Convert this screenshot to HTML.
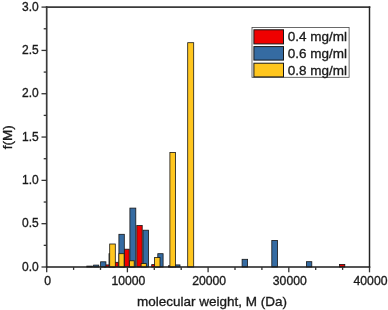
<!DOCTYPE html>
<html><head><meta charset="utf-8"><title>chart</title>
<style>
html,body{margin:0;padding:0;background:#fff;}
body{width:388px;height:310px;overflow:hidden;}
svg{display:block;will-change:transform;filter:blur(0.3px);font-family:"Liberation Sans",sans-serif;fill:#1a1a1a;}
text{stroke:#1a1a1a;stroke-width:0.33px;}
</style></head><body>
<svg width="388" height="310" viewBox="0 0 388 310">
<rect x="0" y="0" width="388" height="310" fill="#ffffff"/>
<rect x="104.40" y="264.90" width="5.40" height="2.10" fill="#ef0000" stroke="#161616" stroke-width="0.8"/>
<rect x="112.90" y="262.30" width="5.30" height="4.70" fill="#ef0000" stroke="#161616" stroke-width="0.8"/>
<rect x="123.80" y="249.20" width="5.40" height="17.80" fill="#ef0000" stroke="#161616" stroke-width="0.8"/>
<rect x="136.80" y="225.50" width="5.40" height="41.50" fill="#ef0000" stroke="#161616" stroke-width="0.8"/>
<rect x="151.70" y="264.60" width="5.20" height="2.40" fill="#ef0000" stroke="#161616" stroke-width="0.8"/>
<rect x="168.40" y="265.80" width="5.20" height="1.20" fill="#ef0000" stroke="#161616" stroke-width="0.8"/>
<rect x="339.40" y="264.40" width="5.40" height="2.60" fill="#ef0000" stroke="#161616" stroke-width="0.8"/>
<rect x="86.80" y="266.10" width="5.70" height="0.90" fill="#356ba2" stroke="#161616" stroke-width="0.8"/>
<rect x="93.60" y="265.10" width="5.20" height="1.90" fill="#356ba2" stroke="#161616" stroke-width="0.8"/>
<rect x="100.60" y="261.80" width="5.30" height="5.20" fill="#356ba2" stroke="#161616" stroke-width="0.8"/>
<rect x="109.00" y="253.70" width="5.50" height="13.30" fill="#356ba2" stroke="#161616" stroke-width="0.8"/>
<rect x="118.90" y="234.30" width="5.40" height="32.70" fill="#356ba2" stroke="#161616" stroke-width="0.8"/>
<rect x="129.90" y="208.10" width="5.90" height="58.90" fill="#356ba2" stroke="#161616" stroke-width="0.8"/>
<rect x="143.00" y="230.20" width="5.50" height="36.80" fill="#356ba2" stroke="#161616" stroke-width="0.8"/>
<rect x="157.80" y="253.70" width="5.30" height="13.30" fill="#356ba2" stroke="#161616" stroke-width="0.8"/>
<rect x="174.80" y="264.90" width="5.20" height="2.10" fill="#356ba2" stroke="#161616" stroke-width="0.8"/>
<rect x="242.10" y="259.30" width="5.50" height="7.70" fill="#356ba2" stroke="#161616" stroke-width="0.8"/>
<rect x="271.80" y="240.40" width="5.70" height="26.60" fill="#356ba2" stroke="#161616" stroke-width="0.8"/>
<rect x="306.40" y="261.70" width="5.40" height="5.30" fill="#356ba2" stroke="#161616" stroke-width="0.8"/>
<rect x="109.70" y="244.00" width="5.60" height="23.00" fill="#ffc61e" stroke="#161616" stroke-width="0.8"/>
<rect x="118.90" y="253.70" width="5.20" height="13.30" fill="#ffc61e" stroke="#161616" stroke-width="0.8"/>
<rect x="129.50" y="260.80" width="4.70" height="6.20" fill="#ffc61e" stroke="#161616" stroke-width="0.8"/>
<rect x="141.10" y="263.60" width="5.20" height="3.40" fill="#ffc61e" stroke="#161616" stroke-width="0.8"/>
<rect x="154.60" y="257.50" width="5.40" height="9.50" fill="#ffc61e" stroke="#161616" stroke-width="0.8"/>
<rect x="169.90" y="152.40" width="5.60" height="114.60" fill="#ffc61e" stroke="#161616" stroke-width="0.8"/>
<rect x="187.70" y="42.70" width="6.00" height="224.30" fill="#ffc61e" stroke="#161616" stroke-width="0.8"/>
<g fill="none" stroke-linecap="square"><line x1="46.7" y1="7.1" x2="46.7" y2="267.0" stroke="#3a3a3a" stroke-width="1.7"/><line x1="46.7" y1="7.1" x2="369.5" y2="7.1" stroke="#3a3a3a" stroke-width="1.7"/><line x1="369.5" y1="7.1" x2="369.5" y2="267.0" stroke="#222" stroke-width="1.45"/><line x1="46.7" y1="267.0" x2="369.5" y2="267.0" stroke="#1c1c1c" stroke-width="1.55"/></g>
<g stroke="#333333" stroke-width="1.3"><line x1="46.70" y1="267.0" x2="46.70" y2="272.3"/>
<line x1="73.60" y1="267.0" x2="73.60" y2="269.9"/>
<line x1="100.50" y1="267.0" x2="100.50" y2="269.9"/>
<line x1="127.40" y1="267.0" x2="127.40" y2="272.3"/>
<line x1="154.30" y1="267.0" x2="154.30" y2="269.9"/>
<line x1="181.20" y1="267.0" x2="181.20" y2="269.9"/>
<line x1="208.10" y1="267.0" x2="208.10" y2="272.3"/>
<line x1="235.00" y1="267.0" x2="235.00" y2="269.9"/>
<line x1="261.90" y1="267.0" x2="261.90" y2="269.9"/>
<line x1="288.80" y1="267.0" x2="288.80" y2="272.3"/>
<line x1="315.70" y1="267.0" x2="315.70" y2="269.9"/>
<line x1="342.60" y1="267.0" x2="342.60" y2="269.9"/>
<line x1="369.50" y1="267.0" x2="369.50" y2="272.3"/>
<line x1="46.7" y1="267.00" x2="41.5" y2="267.00"/>
<line x1="46.7" y1="245.34" x2="43.7" y2="245.34"/>
<line x1="46.7" y1="223.68" x2="41.5" y2="223.68"/>
<line x1="46.7" y1="202.03" x2="43.7" y2="202.03"/>
<line x1="46.7" y1="180.37" x2="41.5" y2="180.37"/>
<line x1="46.7" y1="158.71" x2="43.7" y2="158.71"/>
<line x1="46.7" y1="137.05" x2="41.5" y2="137.05"/>
<line x1="46.7" y1="115.39" x2="43.7" y2="115.39"/>
<line x1="46.7" y1="93.73" x2="41.5" y2="93.73"/>
<line x1="46.7" y1="72.08" x2="43.7" y2="72.08"/>
<line x1="46.7" y1="50.42" x2="41.5" y2="50.42"/>
<line x1="46.7" y1="28.76" x2="43.7" y2="28.76"/>
<line x1="46.7" y1="7.10" x2="41.5" y2="7.10"/></g>
<text x="47.70" y="284.5" text-anchor="middle" font-size="12.2">0</text>
<text x="128.40" y="284.5" text-anchor="middle" font-size="12.2">10000</text>
<text x="209.10" y="284.5" text-anchor="middle" font-size="12.2">20000</text>
<text x="289.80" y="284.5" text-anchor="middle" font-size="12.2">30000</text>
<text x="370.50" y="284.5" text-anchor="middle" font-size="12.2">40000</text>
<text x="38.8" y="270.70" text-anchor="end" font-size="12.0">0.0</text>
<text x="38.8" y="227.38" text-anchor="end" font-size="12.0">0.5</text>
<text x="38.8" y="184.07" text-anchor="end" font-size="12.0">1.0</text>
<text x="38.8" y="140.75" text-anchor="end" font-size="12.0">1.5</text>
<text x="38.8" y="97.43" text-anchor="end" font-size="12.0">2.0</text>
<text x="38.8" y="54.12" text-anchor="end" font-size="12.0">2.5</text>
<text x="38.8" y="10.80" text-anchor="end" font-size="12.0">3.0</text>
<text x="212.1" y="305.9" text-anchor="middle" font-size="13.5">molecular weight, M (Da)</text>
<text transform="translate(11.6,137.3) rotate(-90)" text-anchor="middle" font-size="13.5">f(M)</text>
<rect x="252" y="27.4" width="97.1" height="49.9" fill="#fff" stroke="#444" stroke-width="0.8"/>
<rect x="253.9" y="29.799999999999997" width="29.6" height="14.10" fill="#ef0000" stroke="#161616" stroke-width="1"/>
<text x="287.7" y="41.40" font-size="13.5">0.4 mg/ml</text>
<rect x="253.9" y="46.6" width="29.6" height="13.50" fill="#356ba2" stroke="#161616" stroke-width="1"/>
<text x="287.7" y="58.25" font-size="13.5">0.6 mg/ml</text>
<rect x="253.9" y="63.199999999999996" width="29.6" height="13.70" fill="#ffc61e" stroke="#161616" stroke-width="1"/>
<text x="287.7" y="75.05" font-size="13.5">0.8 mg/ml</text>
</svg>
</body></html>
